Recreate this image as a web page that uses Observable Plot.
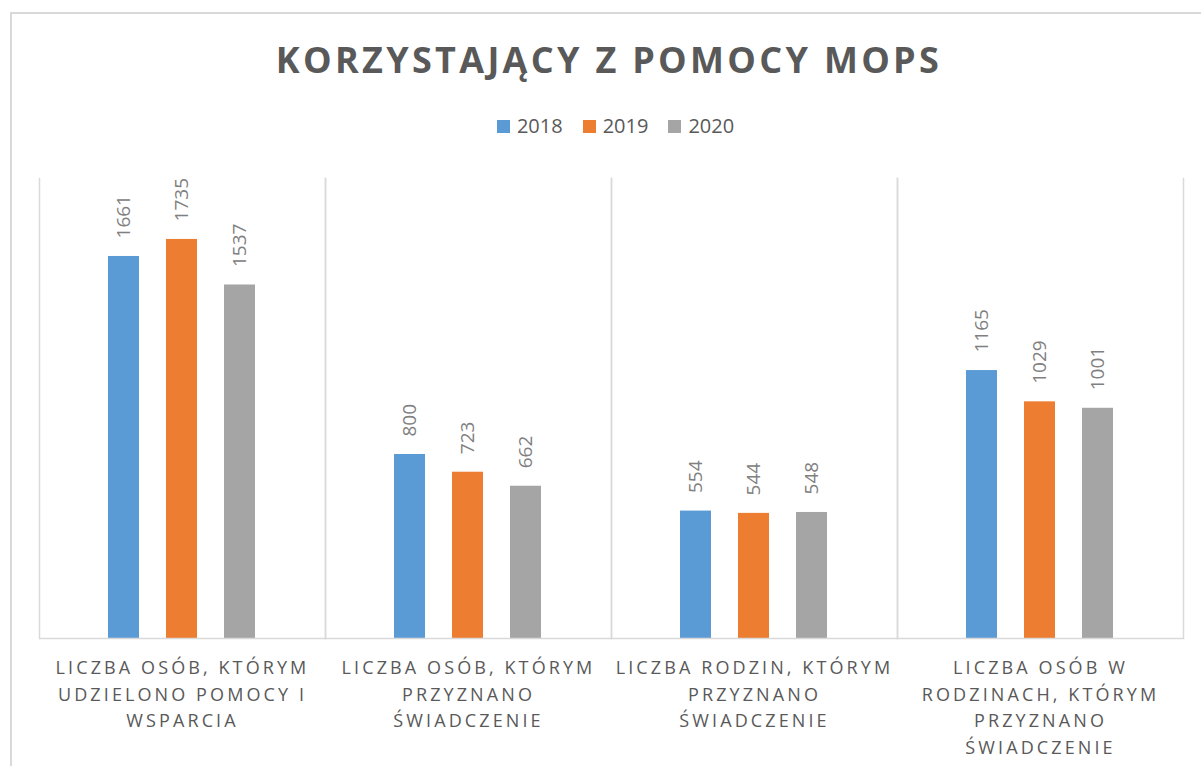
<!DOCTYPE html>
<html>
<head>
<meta charset="utf-8">
<script src="https://cdn.jsdelivr.net/npm/d3@7"></script>
<script src="https://cdn.jsdelivr.net/npm/@observablehq/plot@0.6"></script>
<style>
  html, body { margin: 0; padding: 0; background: #fff; }
  #wrap { position: relative; width: 1201px; height: 766px; overflow: hidden; font-family: "Open Sans", sans-serif; }
  #border { position: absolute; left: 10px; top: 12px; width: 1300px; height: 900px; border-left: 2px solid #d9d9d9; border-top: 2px solid #d9d9d9; box-sizing: border-box; }
  #title { position: absolute; left: 0; top: 36px; width: 1218px; text-align: center; font-size: 36px; font-weight: 700; color: #595959; letter-spacing: 3.3px; line-height: 48px; white-space: nowrap; }
  #legend { position: absolute; left: 0; top: 112px; width: 1231px; display: flex; justify-content: center; align-items: center; font-size: 20px; color: #595959; line-height: 28px; }
  #legend .item { display: flex; align-items: center; margin: 0 10px; }
  #legend .sw { width: 13px; height: 13px; margin-right: 7px; }
  #chart { position: absolute; left: 0; top: 160px; }
</style>
</head>
<body>
<div id="wrap">
  <div id="border"></div>
  <div id="title">KORZYSTAJĄCY Z POMOCY MOPS</div>
  <div id="legend"></div>
  <div id="chart"></div>
</div>
<script>
const categories = [
  "Liczba osób, którym udzielono pomocy i wsparcia",
  "Liczba osób, którym przyznano świadczenie",
  "Liczba rodzin, którym przyznano świadczenie",
  "Liczba osób w rodzinach, którym przyznano świadczenie"
];
const categoryLabels = [
  "LICZBA OSÓB, KTÓRYM\nUDZIELONO POMOCY I\nWSPARCIA",
  "LICZBA OSÓB, KTÓRYM\nPRZYZNANO\nŚWIADCZENIE",
  "LICZBA RODZIN, KTÓRYM\nPRZYZNANO\nŚWIADCZENIE",
  "LICZBA OSÓB W\nRODZINACH, KTÓRYM\nPRZYZNANO\nŚWIADCZENIE"
];
const years = ["2018", "2019", "2020"];
const values2018 = [1661, 800, 554, 1165];
const values2019 = [1735, 723, 544, 1029];
const values2020 = [1537, 662, 548, 1001];
const colors = ["#5B9BD5", "#ED7D31", "#A5A5A5"];

const series = [values2018, values2019, values2020];
const data = [];
categories.forEach((c, i) => {
  years.forEach((y, j) => data.push({cat: c, year: y, value: series[j][i]}));
});
const labelRows = categories.map((c, i) => ({cat: c, label: categoryLabels[i]}));

// legend
const legend = document.getElementById("legend");
years.forEach((y, j) => {
  const item = document.createElement("div");
  item.className = "item";
  const sw = document.createElement("span");
  sw.className = "sw";
  sw.style.background = colors[j];
  item.appendChild(sw);
  item.appendChild(document.createTextNode(y));
  legend.appendChild(item);
});

const chart = Plot.plot({
  width: 1201,
  height: 606,
  marginLeft: 38,
  marginRight: 18,
  marginTop: 18,
  marginBottom: 128,
  style: {fontFamily: "Open Sans, sans-serif", background: "transparent"},
  fx: {domain: categories, padding: 0, axis: null},
  x: {domain: years, paddingInner: 0.458, paddingOuter: 1.153, axis: null},
  y: {domain: [0, 2000], axis: null},
  color: {domain: years, range: colors},
  marks: [
    Plot.frame({anchor: "left", stroke: "#d9d9d9", strokeWidth: 1.5}),
    Plot.frame({anchor: "right", stroke: "#d9d9d9", strokeWidth: 1.5}),
    Plot.barY(data, {fx: "cat", x: "year", y: "value", fill: "year"}),
    Plot.ruleY([0], {stroke: "#d9d9d9", strokeWidth: 1.5}),
    Plot.text(data, {fx: "cat", x: "year", y: "value", text: d => String(d.value), rotate: -90, textAnchor: "start", dy: -18, fontSize: 19, fill: "#808080"}),
    Plot.text(labelRows, {fx: "cat", text: "label", frameAnchor: "bottom", lineAnchor: "top", dy: 17, lineHeight: 1.47, fontSize: 18, fill: "#595959"})
  ]
});
document.getElementById("chart").appendChild(chart);
const textGroups = chart.querySelectorAll('g[aria-label="text"]');
if (textGroups.length) {
  const g = textGroups[textGroups.length - 1];
  g.querySelectorAll("text").forEach(t => t.setAttribute("letter-spacing", "3.1px"));
}
</script>
</body>
</html>
